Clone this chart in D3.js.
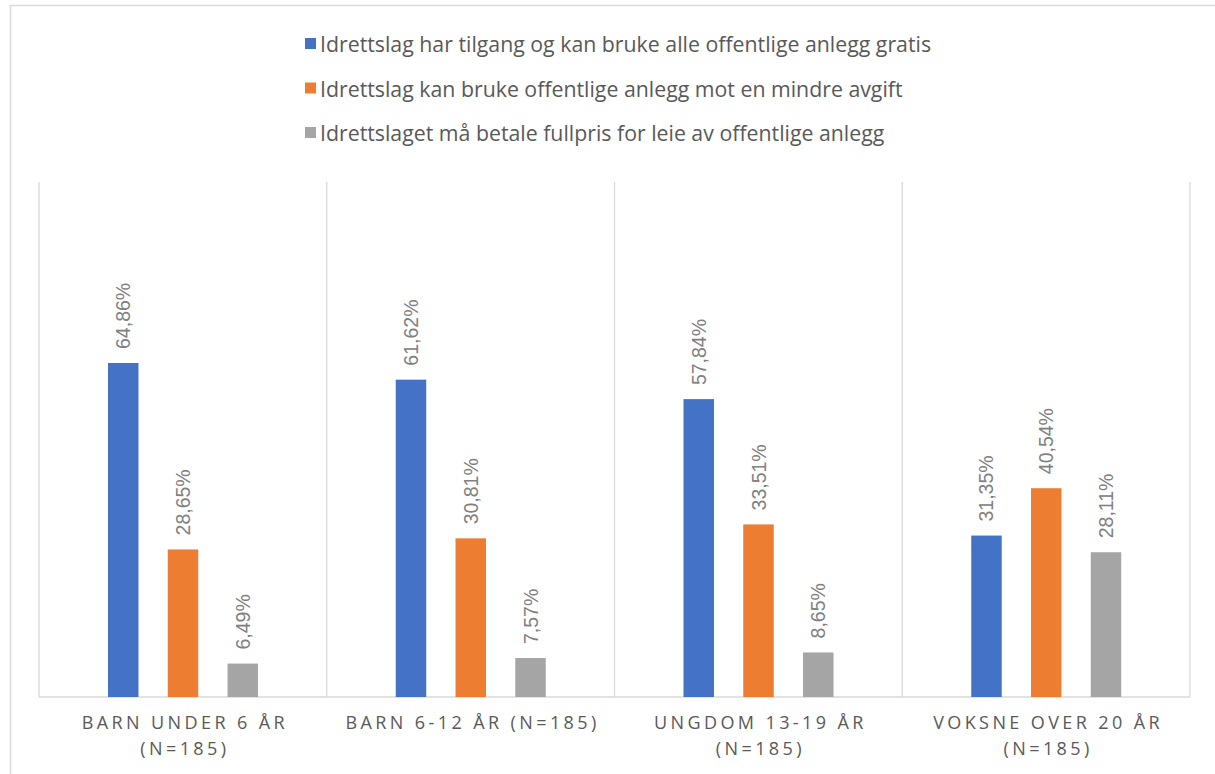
<!DOCTYPE html>
<html>
<head>
<meta charset="utf-8">
<script src="https://cdn.jsdelivr.net/npm/d3@7"></script>
<style>
  body { margin: 0; background: #fff; }
  #vis svg { display: block; }
</style>
</head>
<body>
<div id="vis"></div>
<script>
// data
const categories = [
  ["BARN UNDER 6 ÅR", "(N=185)"],
  ["BARN 6-12 ÅR (N=185)"],
  ["UNGDOM 13-19 ÅR", "(N=185)"],
  ["VOKSNE OVER 20 ÅR", "(N=185)"]
];
const seriesNames = [
  "Idrettslag har tilgang og kan bruke alle offentlige anlegg gratis",
  "Idrettslag kan bruke offentlige anlegg mot en mindre avgift",
  "Idrettslaget må betale fullpris for leie av offentlige anlegg"
];
const gratis = [64.86, 61.62, 57.84, 31.35];
const avgift = [28.65, 30.81, 33.51, 40.54];
const fullpris = [6.49, 7.57, 8.65, 28.11];
const colors = ["#4472c4", "#ed7d31", "#a5a5a5"];

const W = 1215, H = 774;
const margin = { top: 182, left: 39, right: 25, bottom: 77 };

const svg = d3.select("#vis").append("svg")
  .attr("width", W).attr("height", H);

// outer chart border
svg.append("rect")
  .attr("x", 10.5).attr("y", 5.5)
  .attr("width", W + 10).attr("height", H + 10)
  .attr("fill", "none").attr("stroke", "#d9d9d9").attr("stroke-width", 1.5);

const x0 = d3.scaleBand()
  .domain(d3.range(categories.length))
  .range([margin.left, W - margin.right]);

const x1 = d3.scaleBand()
  .domain(d3.range(3))
  .range([69, 219])
  .paddingInner(0.49);

const y = d3.scaleLinear()
  .domain([0, 100])
  .range([H - margin.bottom, margin.top]);

// vertical separators between categories
svg.append("g").selectAll("line")
  .data(d3.range(categories.length + 1))
  .join("line")
  .attr("x1", d => d < categories.length ? x0(d) : x0.range()[1])
  .attr("x2", d => d < categories.length ? x0(d) : x0.range()[1])
  .attr("y1", y(100)).attr("y2", y(0))
  .attr("stroke", "#d9d9d9").attr("stroke-width", 1.3);

// baseline
svg.append("line")
  .attr("x1", x0.range()[0]).attr("x2", x0.range()[1])
  .attr("y1", y(0)).attr("y2", y(0))
  .attr("stroke", "#d9d9d9").attr("stroke-width", 1.3);

const series = [gratis, avgift, fullpris];
const fmt = v => v.toFixed(2).replace(".", ",") + "%";

const groups = svg.append("g").selectAll("g")
  .data(categories)
  .join("g")
  .attr("transform", (d, i) => "translate(" + x0(i) + ",0)");

groups.selectAll("rect")
  .data((d, i) => series.map((s, k) => ({ k: k, v: s[i] })))
  .join("rect")
  .attr("x", d => x1(d.k))
  .attr("width", x1.bandwidth())
  .attr("y", d => y(d.v))
  .attr("height", d => y(0) - y(d.v))
  .attr("fill", d => colors[d.k]);

groups.selectAll("text.lbl")
  .data((d, i) => series.map((s, k) => ({ k: k, v: s[i] })))
  .join("text")
  .attr("class", "lbl")
  .attr("transform", d => "translate(" + (x1(d.k) + x1.bandwidth() / 2 + 7) + "," + (y(d.v) - 14) + ") rotate(-90)")
  .attr("font-family", "Liberation Sans, Arial, sans-serif")
  .attr("font-size", 19.5)
  .attr("fill", "#808080")
  .text(d => fmt(d.v));

// category labels
groups.append("text")
  .attr("text-anchor", "middle")
  .attr("font-family", "'Open Sans', sans-serif")
  .attr("font-size", 18)
  .attr("letter-spacing", 3.4)
  .attr("fill", "#595959")
  .selectAll("tspan")
  .data(d => d)
  .join("tspan")
  .attr("x", x0.bandwidth() / 2 + 2)
  .attr("y", (d, j) => 729 + j * 26)
  .text(d => d);

// legend
const legend = svg.append("g").selectAll("g")
  .data(seriesNames)
  .join("g")
  .attr("transform", (d, i) => "translate(305," + (45 + i * 44.5) + ")");

legend.append("rect")
  .attr("x", 0).attr("y", -7)
  .attr("width", 11).attr("height", 11)
  .attr("fill", (d, i) => colors[i]);

legend.append("text")
  .attr("x", 15).attr("y", 0)
  .attr("dy", "0.35em")
  .attr("font-family", "'Open Sans', sans-serif")
  .attr("font-size", 21.3)
  .attr("fill", "#595959")
  .text(d => d);
</script>
</body>
</html>
